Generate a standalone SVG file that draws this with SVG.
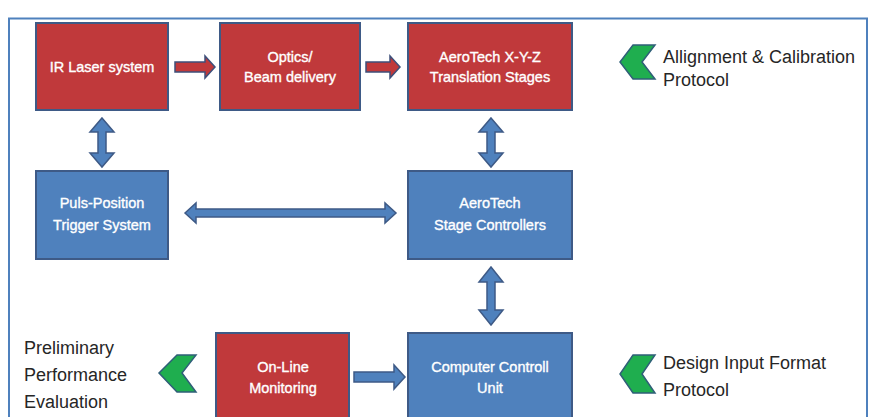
<svg xmlns="http://www.w3.org/2000/svg" width="870" height="417" viewBox="0 0 870 417">
<style>
.red{fill:#c0393b;stroke:#3e5a86;stroke-width:2}
.blue{fill:#4f81bd;stroke:#3e5a86;stroke-width:2}
.ra{fill:#c0393b;stroke:#3e4f7a;stroke-width:1.5}
.ba{fill:#4f81bd;stroke:#3e5a86;stroke-width:1.5}
.chev{fill:#1fae4f;stroke:#2f5f78;stroke-width:1.5}
.bt{font-family:"Liberation Sans",Arial,sans-serif;font-size:14.5px;fill:#ffffff;stroke:#ffffff;stroke-width:0.35;text-anchor:middle}
.lt{font-family:"Liberation Sans",Arial,sans-serif;font-size:18px;fill:#262626}
</style>
<rect x="0" y="0" width="870" height="417" fill="#ffffff"/>
<rect x="9" y="18.5" width="858" height="420" fill="none" stroke="#4f81bd" stroke-width="2"/>
<g id="connectors">
<polygon class="ra" points="175,62 205,62 205,56 215,67 205,78 205,72 175,72"/>
<polygon class="ra" points="366,62 390,62 390,56 400,67 390,78 390,72 366,72"/>
<polygon class="ba" points="102,118 114,132 106,132 106,153 114,153 102,167 90,153 98,153 98,132 90,132"/>
<polygon class="ba" points="491,118 503,132 495,132 495,153 503,153 491,167 479,153 487,153 487,132 479,132"/>
<polygon class="ba" points="491,267 503,282 495,282 495,310 503,310 491,325 479,310 487,310 487,282 479,282"/>
<polygon class="ba" points="185,213 196,203 196,209 385,209 385,203 396,213 385,223 385,217 196,217 196,223"/>
<polygon class="ba" points="354,372 394,372 394,365 405,377 394,389 394,382 354,382"/>
</g>
<g id="ir-laser">
<rect class="red" x="36" y="23" width="132" height="87"/>
<text class="bt" x="102" y="72">IR Laser system</text>
</g>
<g id="optics">
<rect class="red" x="220" y="23" width="140" height="87"/>
<text class="bt" x="290" y="62">Optics/</text>
<text class="bt" x="290" y="82">Beam delivery</text>
</g>
<g id="xyz-stages">
<rect class="red" x="408" y="23" width="164" height="87"/>
<text class="bt" x="490" y="62">AeroTech X-Y-Z</text>
<text class="bt" x="490" y="82">Translation Stages</text>
</g>
<g id="trigger">
<rect class="blue" x="36" y="171" width="132" height="88"/>
<text class="bt" x="102" y="208">Puls-Position</text>
<text class="bt" x="102" y="230">Trigger System</text>
</g>
<g id="controllers">
<rect class="blue" x="408" y="171" width="164" height="88"/>
<text class="bt" x="490" y="208">AeroTech</text>
<text class="bt" x="490" y="230">Stage Controllers</text>
</g>
<g id="monitoring">
<rect class="red" x="216" y="333" width="133" height="95"/>
<text class="bt" x="283" y="372">On-Line</text>
<text class="bt" x="283" y="393">Monitoring</text>
</g>
<g id="computer">
<rect class="blue" x="408" y="333" width="164" height="95"/>
<text class="bt" x="490" y="372">Computer Controll</text>
<text class="bt" x="490" y="393">Unit</text>
</g>
<g id="alignment">
<polygon class="chev" points="633,45 655,45 642,62 655,79 633,79 620,62"/>
<text class="lt" x="663" y="63">Allignment &amp; Calibration</text>
<text class="lt" x="663" y="86">Protocol</text>
</g>
<g id="design-input">
<polygon class="chev" points="633,355 655,355 642,374 655,393 633,393 620,374"/>
<text class="lt" x="663" y="369">Design Input Format</text>
<text class="lt" x="663" y="396">Protocol</text>
</g>
<g id="evaluation">
<polygon class="chev" points="177,355 196,355 182,373 196,392 177,392 159,373"/>
<text class="lt" x="24" y="354">Preliminary</text>
<text class="lt" x="24" y="381">Performance</text>
<text class="lt" x="24" y="408">Evaluation</text>
</g>
</svg>
